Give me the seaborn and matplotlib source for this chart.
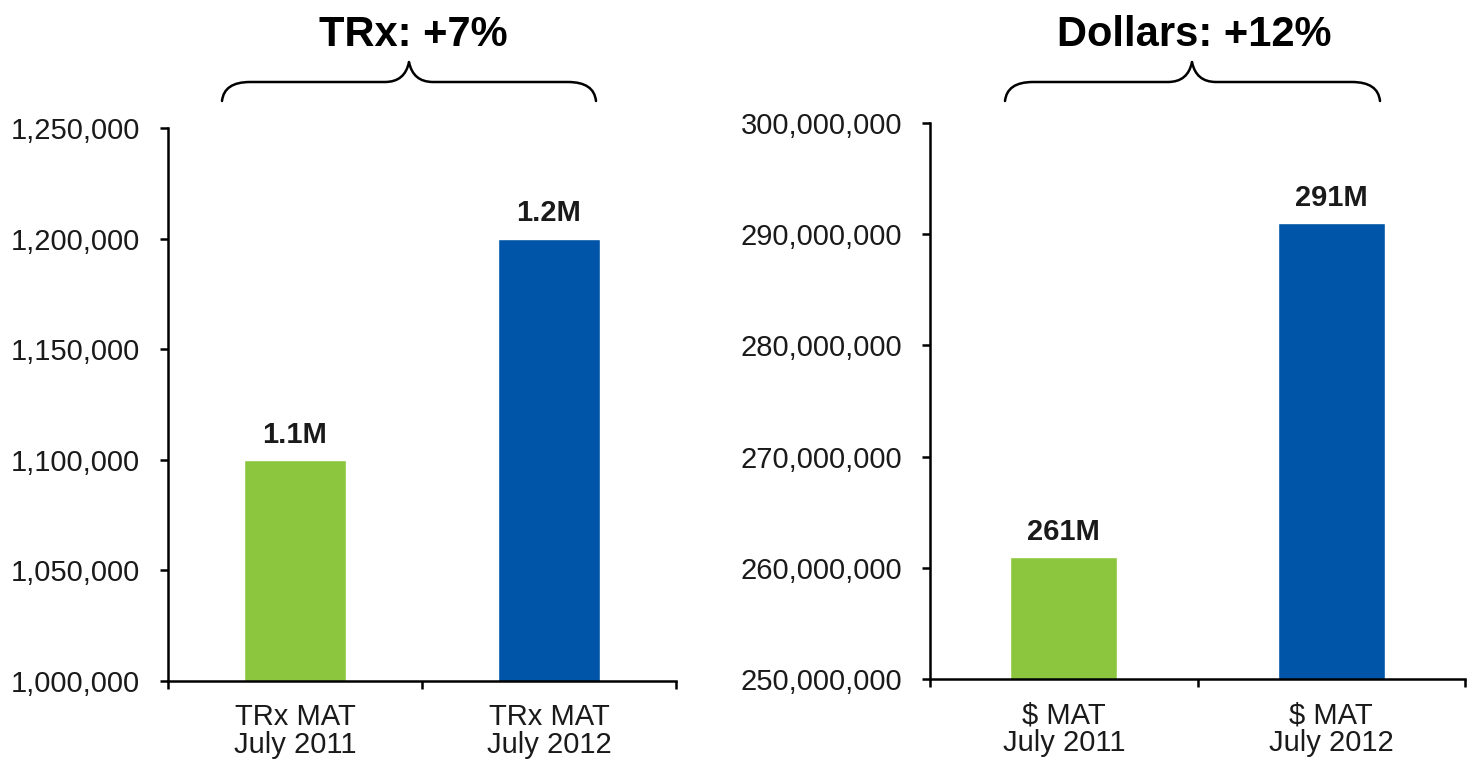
import matplotlib
matplotlib.use("Agg")
import matplotlib.pyplot as plt
from matplotlib.path import Path
from matplotlib.patches import PathPatch
from matplotlib.ticker import FuncFormatter, FixedLocator
import seaborn as sns
import pandas as pd

# Data
trx_categories = ["TRx MAT\nJuly 2011", "TRx MAT\nJuly 2012"]
trx_values = [1_100_000, 1_200_000]
trx_labels = ["1.1M", "1.2M"]
trx_title = "TRx: +7%"

usd_categories = ["$ MAT\nJuly 2011", "$ MAT\nJuly 2012"]
usd_values = [261_000_000, 291_000_000]
usd_labels = ["261M", "291M"]
usd_title = "Dollars: +12%"

bar_colors = ["#8cc63f", "#0055a8"]

sns.set_theme(style="white")
plt.rcParams["font.family"] = ["Liberation Sans", "DejaVu Sans"]

W, H = 1475, 769
fig = plt.figure(figsize=(W / 100, H / 100), dpi=100)


def px_axes(x0, y0, x1, y1):
    return fig.add_axes([x0 / W, 1 - y1 / H, (x1 - x0) / W, (y1 - y0) / H])


ax1 = px_axes(168, 128, 676, 681)
ax2 = px_axes(930, 123, 1465, 679)


def draw_panel(ax, cats, vals, labels, ylim, step):
    df = pd.DataFrame({"cat": cats, "val": vals})
    sns.barplot(data=df, x="cat", y="val", hue="cat", palette=bar_colors,
                width=0.4, legend=False, ax=ax, saturation=1)
    ax.set_ylim(*ylim)
    ax.set_xlim(-0.5, 1.5)
    ax.yaxis.set_major_locator(FixedLocator(list(range(ylim[0], ylim[1] + 1, step))))
    ax.yaxis.set_major_formatter(FuncFormatter(lambda v, p: f"{v:,.0f}"))
    ax.set_xlabel("")
    ax.set_ylabel("")
    for s in ["top", "right"]:
        ax.spines[s].set_visible(False)
    for s in ["left", "bottom"]:
        ax.spines[s].set_color("black")
        ax.spines[s].set_linewidth(1.8)
    ax.tick_params(axis="y", which="major", direction="out", length=6, width=1.8,
                   color="black", labelsize=21, labelcolor="#1a1a1a", pad=14, left=True)
    ax.tick_params(axis="x", which="major", length=0, labelsize=21,
                   labelcolor="#1a1a1a", pad=16)
    ax.set_xticks([-0.5, 0.5, 1.5], minor=True)
    ax.tick_params(axis="x", which="minor", direction="out", length=6, width=1.8,
                   color="black", bottom=True)
    for t in ax.get_xticklabels():
        t.set_linespacing(1.0)
    for container in ax.containers:
        ax.bar_label(container, labels=[labels[int(round(b.get_x() + b.get_width() / 2))]
                                        for b in container],
                     padding=8, fontsize=21, fontweight="bold", color="#1a1a1a")


draw_panel(ax1, trx_categories, trx_values, trx_labels, (1_000_000, 1_250_000), 50_000)
draw_panel(ax2, usd_categories, usd_values, usd_labels, (250_000_000, 300_000_000), 10_000_000)


def brace(x0, x1, xc, y_end=101, y_mid=82, y_tip=62):
    pts = [(x0, y_end), (x0 + 2, y_mid), (x0 + 28, y_mid),
           (xc - 24, y_mid),
           (xc - 4, y_mid), (xc, y_tip),
           (xc + 4, y_mid), (xc + 24, y_mid),
           (x1 - 28, y_mid),
           (x1 - 2, y_mid), (x1, y_end)]
    codes = [Path.MOVETO, Path.CURVE3, Path.CURVE3, Path.LINETO,
             Path.CURVE3, Path.CURVE3, Path.CURVE3, Path.CURVE3,
             Path.LINETO, Path.CURVE3, Path.CURVE3]
    verts = [(x / W, 1 - y / H) for x, y in pts]
    fig.add_artist(PathPatch(Path(verts, codes), fill=False, lw=1.8,
                             edgecolor="black", transform=fig.transFigure,
                             capstyle="round", joinstyle="round"))


brace(222, 596, 409)
brace(1005, 1380, 1192)

fig.text(413 / W, 1 - 35 / H, trx_title, ha="center", va="center",
         fontsize=30, fontweight="bold", color="black")
fig.text(1194 / W, 1 - 35 / H, usd_title, ha="center", va="center",
         fontsize=30, fontweight="bold", color="black")

fig.savefig("out.png", dpi=100, facecolor="white")
